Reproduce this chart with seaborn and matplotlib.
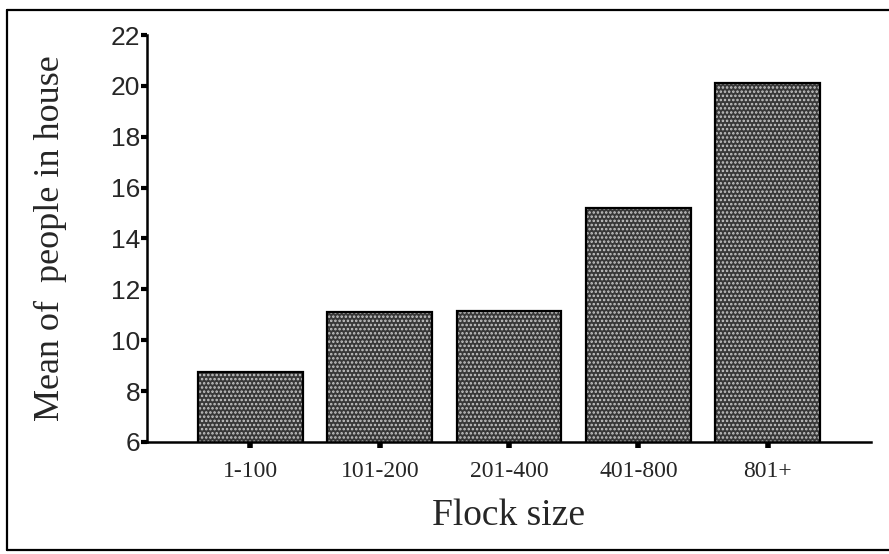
import numpy as np
import seaborn as sns
import matplotlib.pyplot as plt
import pandas as pd
from matplotlib.lines import Line2D

# values
flock_size = ["1-100", "101-200", "201-400", "401-800", "801+"]
mean_people = [8.75, 11.1, 11.15, 15.2, 20.1]
y_ticks = [6, 8, 10, 12, 14, 16, 18, 20, 22]

df = pd.DataFrame({"flock": flock_size, "mean": mean_people})

sns.set_style("white")
plt.rcParams["hatch.linewidth"] = 1.2

fig = plt.figure(figsize=(8.89, 5.54), dpi=100)
ax = fig.add_axes([0.1654, 0.2022, 0.8144, 0.7346])

# stippled fill first, then the black outline on top
sns.barplot(x="flock", y="mean", data=df, ax=ax, color="#383838", saturation=1,
            width=0.81, edgecolor="#c8c8c8", linewidth=0, hatch="....")
sns.barplot(x="flock", y="mean", data=df, ax=ax, fill=False, saturation=1,
            width=0.81, edgecolor="black", linewidth=1.6)

ax.set_ylim(6, 22)
ax.set_xlim(-0.8, 4.8)
ax.set_yticks(y_ticks)
ax.set_yticklabels([str(t) for t in y_ticks], family="Liberation Sans", fontsize=19)
ax.set_xticks(range(len(flock_size)))
ax.set_xticklabels(flock_size, family="Liberation Serif", fontsize=17)

for s in ["top", "right"]:
    ax.spines[s].set_visible(False)
for s in ["left", "bottom"]:
    ax.spines[s].set_linewidth(1.8)
    ax.spines[s].set_color("black")

ax.tick_params(axis="y", direction="out", length=4, width=3, pad=1, color="black", left=True)
ax.tick_params(axis="x", direction="out", length=4, width=4, pad=10, color="black", bottom=True)

ax.set_ylabel("Mean of  people in house", family="Liberation Serif", fontsize=26)
ax.yaxis.set_label_coords(-0.134, 0.5)
ax.set_xlabel("Flock size", family="Liberation Serif", fontsize=27)
ax.xaxis.set_label_coords(0.4986, -0.182)
ax.xaxis.label.set_va("center")
ax.yaxis.label.set_va("center")

# scanned border around the figure (right side cut off)
W, H = 889, 554
for xs, ys in [([7, 889], [10, 10]), ([7, 7], [10, 550]), ([7, 889], [550, 550])]:
    fig.add_artist(Line2D([x / W for x in xs], [1 - y / H for y in ys],
                          color="black", linewidth=1.6, transform=fig.transFigure))

plt.savefig("out.png", dpi=100)
